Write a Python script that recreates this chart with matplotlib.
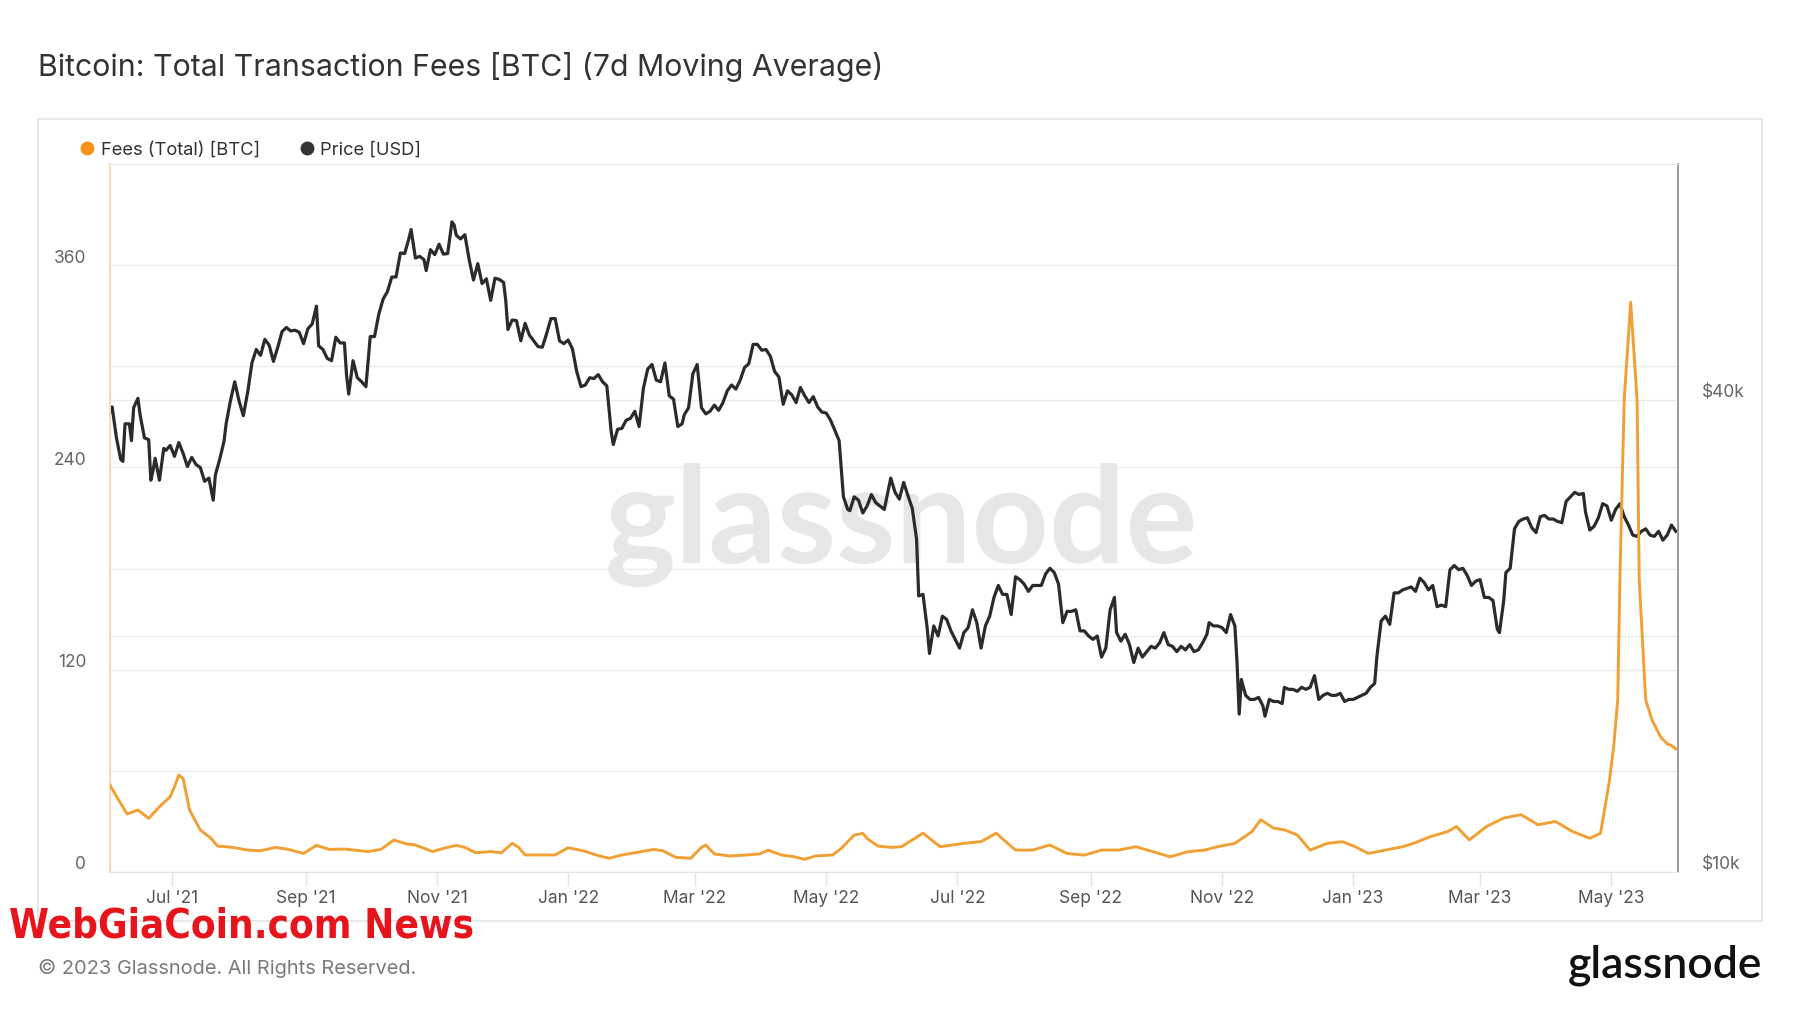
import matplotlib
matplotlib.use('Agg')
import matplotlib.pyplot as plt
import matplotlib.dates as mdates
import matplotlib.transforms as mtransforms
from matplotlib.lines import Line2D
from matplotlib.patches import Rectangle
from matplotlib.ticker import NullLocator
import pandas as pd

plt.rcParams['font.family'] = ['Inter', 'DejaVu Sans']

title = 'Bitcoin: Total Transaction Fees [BTC] (7d Moving Average)'
fee_label = 'Fees (Total) [BTC]'
price_label = 'Price [USD]'

# BTC price, thousands of USD
price_dates = [
    '2021-06-02', '2021-06-03', '2021-06-05', '2021-06-07', '2021-06-08', '2021-06-09', '2021-06-11', '2021-06-12',
    '2021-06-13', '2021-06-15', '2021-06-16', '2021-06-18', '2021-06-20', '2021-06-21', '2021-06-22', '2021-06-23',
    '2021-06-25', '2021-06-27', '2021-06-28', '2021-06-30', '2021-07-02', '2021-07-04', '2021-07-06', '2021-07-08',
    '2021-07-10', '2021-07-12', '2021-07-14', '2021-07-16', '2021-07-18', '2021-07-20', '2021-07-21', '2021-07-23',
    '2021-07-25', '2021-07-26', '2021-07-28', '2021-07-30', '2021-08-01', '2021-08-03', '2021-08-05', '2021-08-07',
    '2021-08-09', '2021-08-11', '2021-08-13', '2021-08-15', '2021-08-17', '2021-08-19', '2021-08-21', '2021-08-23',
    '2021-08-25', '2021-08-27', '2021-08-29', '2021-08-31', '2021-09-02', '2021-09-04', '2021-09-06', '2021-09-07',
    '2021-09-09', '2021-09-11', '2021-09-13', '2021-09-15', '2021-09-17', '2021-09-19', '2021-09-20', '2021-09-21',
    '2021-09-23', '2021-09-25', '2021-09-27', '2021-09-29', '2021-10-01', '2021-10-03', '2021-10-05', '2021-10-07',
    '2021-10-09', '2021-10-11', '2021-10-13', '2021-10-15', '2021-10-17', '2021-10-19', '2021-10-20', '2021-10-22',
    '2021-10-24', '2021-10-26', '2021-10-27', '2021-10-29', '2021-10-31', '2021-11-02', '2021-11-04', '2021-11-06',
    '2021-11-08', '2021-11-09', '2021-11-10', '2021-11-12', '2021-11-14', '2021-11-16', '2021-11-18', '2021-11-20',
    '2021-11-22', '2021-11-24', '2021-11-26', '2021-11-28', '2021-11-30', '2021-12-02', '2021-12-03', '2021-12-04',
    '2021-12-06', '2021-12-08', '2021-12-10', '2021-12-12', '2021-12-14', '2021-12-16', '2021-12-18', '2021-12-20',
    '2021-12-22', '2021-12-24', '2021-12-26', '2021-12-28', '2021-12-30',
    '2022-01-01', '2022-01-03', '2022-01-05', '2022-01-07', '2022-01-09', '2022-01-11', '2022-01-13', '2022-01-15',
    '2022-01-17', '2022-01-19', '2022-01-21', '2022-01-22', '2022-01-24', '2022-01-26', '2022-01-28', '2022-01-30',
    '2022-02-01', '2022-02-03', '2022-02-05', '2022-02-07', '2022-02-09', '2022-02-11', '2022-02-13', '2022-02-15',
    '2022-02-17', '2022-02-19', '2022-02-21', '2022-02-23', '2022-02-24', '2022-02-26', '2022-02-28', '2022-03-02',
    '2022-03-04', '2022-03-06', '2022-03-08', '2022-03-10', '2022-03-12', '2022-03-14', '2022-03-16', '2022-03-18',
    '2022-03-20', '2022-03-22', '2022-03-24', '2022-03-26', '2022-03-28', '2022-03-30', '2022-04-01', '2022-04-03',
    '2022-04-05', '2022-04-07', '2022-04-09', '2022-04-11', '2022-04-13', '2022-04-15', '2022-04-17', '2022-04-19',
    '2022-04-21', '2022-04-23', '2022-04-25', '2022-04-27', '2022-04-29', '2022-05-01', '2022-05-03', '2022-05-05',
    '2022-05-07', '2022-05-09', '2022-05-11', '2022-05-12', '2022-05-14', '2022-05-16', '2022-05-18', '2022-05-20',
    '2022-05-22', '2022-05-24', '2022-05-26', '2022-05-28', '2022-05-31', '2022-06-02', '2022-06-04', '2022-06-06',
    '2022-06-08', '2022-06-10', '2022-06-12', '2022-06-13', '2022-06-15', '2022-06-17', '2022-06-18', '2022-06-20',
    '2022-06-22', '2022-06-24', '2022-06-26', '2022-06-28', '2022-06-30', '2022-07-02', '2022-07-04', '2022-07-06',
    '2022-07-08', '2022-07-10', '2022-07-12', '2022-07-14', '2022-07-16', '2022-07-18', '2022-07-20', '2022-07-22',
    '2022-07-24', '2022-07-26', '2022-07-28', '2022-07-30', '2022-08-01', '2022-08-03', '2022-08-05', '2022-08-07',
    '2022-08-09', '2022-08-11', '2022-08-13', '2022-08-15', '2022-08-17', '2022-08-19', '2022-08-21', '2022-08-23',
    '2022-08-25', '2022-08-27', '2022-08-29', '2022-08-31', '2022-09-02', '2022-09-04', '2022-09-06', '2022-09-08',
    '2022-09-10', '2022-09-12', '2022-09-13', '2022-09-15', '2022-09-17', '2022-09-19', '2022-09-21', '2022-09-23',
    '2022-09-25', '2022-09-27', '2022-09-29', '2022-10-01', '2022-10-03', '2022-10-05', '2022-10-07', '2022-10-09',
    '2022-10-11', '2022-10-13', '2022-10-15', '2022-10-17', '2022-10-19', '2022-10-21', '2022-10-23', '2022-10-25',
    '2022-10-26', '2022-10-28', '2022-10-30', '2022-11-01', '2022-11-03', '2022-11-05', '2022-11-07', '2022-11-08',
    '2022-11-09', '2022-11-10', '2022-11-12', '2022-11-14', '2022-11-16', '2022-11-18', '2022-11-20', '2022-11-21',
    '2022-11-23', '2022-11-25', '2022-11-27', '2022-11-29', '2022-11-30', '2022-12-02', '2022-12-04', '2022-12-06',
    '2022-12-08', '2022-12-10', '2022-12-12', '2022-12-14', '2022-12-16', '2022-12-18', '2022-12-20', '2022-12-22',
    '2022-12-24', '2022-12-26', '2022-12-28', '2022-12-30',
    '2023-01-01', '2023-01-03', '2023-01-05', '2023-01-07', '2023-01-09', '2023-01-11', '2023-01-12', '2023-01-14',
    '2023-01-16', '2023-01-18', '2023-01-20', '2023-01-22', '2023-01-24', '2023-01-26', '2023-01-28', '2023-01-30',
    '2023-02-01', '2023-02-03', '2023-02-05', '2023-02-07', '2023-02-09', '2023-02-11', '2023-02-13', '2023-02-15',
    '2023-02-17', '2023-02-19', '2023-02-21', '2023-02-23', '2023-02-25', '2023-02-27', '2023-03-01', '2023-03-03',
    '2023-03-05', '2023-03-07', '2023-03-09', '2023-03-10', '2023-03-12', '2023-03-13', '2023-03-15', '2023-03-17',
    '2023-03-19', '2023-03-21', '2023-03-23', '2023-03-25', '2023-03-27', '2023-03-29', '2023-03-31', '2023-04-02',
    '2023-04-04', '2023-04-06', '2023-04-08', '2023-04-10', '2023-04-12', '2023-04-14', '2023-04-16', '2023-04-18',
    '2023-04-19', '2023-04-21', '2023-04-23', '2023-04-25', '2023-04-27', '2023-04-29', '2023-05-01', '2023-05-03',
    '2023-05-05', '2023-05-07', '2023-05-09', '2023-05-11', '2023-05-13', '2023-05-15', '2023-05-17', '2023-05-19',
    '2023-05-21', '2023-05-23', '2023-05-25', '2023-05-27', '2023-05-29', '2023-05-31',
]
price_k = [
    38.6, 39.2, 35.8, 33.6, 33.4, 37.3, 37.3, 35.5,
    39.1, 40.2, 38.3, 35.8, 35.6, 31.6, 32.5, 33.7,
    31.6, 34.7, 34.5, 35.0, 33.9, 35.3, 34.2, 32.9,
    33.8, 33.1, 32.8, 31.5, 31.8, 29.8, 32.1, 33.6,
    35.4, 37.3, 39.9, 42.2, 39.9, 38.2, 40.9, 44.6,
    46.4, 45.6, 47.8, 47.0, 44.8, 46.7, 48.9, 49.5,
    49.0, 49.1, 48.8, 47.2, 49.3, 50.0, 52.7, 46.9,
    46.4, 45.2, 44.9, 48.1, 47.3, 47.3, 43.0, 40.7,
    44.9, 42.7, 42.2, 41.6, 48.2, 48.2, 51.5, 53.8,
    55.0, 57.4, 57.4, 61.6, 61.5, 64.3, 66.0, 60.7,
    61.0, 60.4, 58.5, 62.2, 61.3, 63.2, 61.4, 61.5,
    67.5, 66.9, 64.9, 64.2, 65.0, 60.4, 56.9, 59.7,
    56.3, 57.1, 53.6, 57.2, 57.0, 56.5, 53.6, 49.2,
    50.6, 50.5, 47.6, 50.1, 48.4, 47.6, 46.8, 46.7,
    48.6, 50.8, 50.8, 47.6, 47.2,
    47.7, 46.5, 43.5, 41.6, 41.8, 42.7, 42.6, 43.1,
    42.2, 41.7, 36.5, 35.1, 36.7, 36.8, 37.7, 37.9,
    38.7, 37.0, 41.4, 43.8, 44.4, 42.4, 42.2, 44.6,
    40.5, 40.1, 37.0, 37.3, 38.3, 39.1, 43.2, 44.4,
    39.1, 38.4, 38.7, 39.4, 38.8, 39.7, 41.1, 41.8,
    41.3, 42.4, 44.0, 44.5, 47.1, 47.1, 46.3, 46.4,
    45.5, 43.5, 42.8, 39.5, 41.1, 40.6, 39.7, 41.5,
    40.5, 39.7, 40.4, 39.2, 38.6, 38.5, 37.7, 36.6,
    35.5, 30.1, 29.0, 28.9, 30.1, 29.8, 28.7, 29.3,
    30.3, 29.6, 29.3, 29.0, 31.8, 30.5, 29.9, 31.4,
    30.2, 29.1, 26.6, 22.5, 22.6, 20.4, 19.0, 20.6,
    20.0, 21.2, 21.0, 20.3, 19.8, 19.3, 20.2, 20.5,
    21.6, 20.8, 19.3, 20.6, 21.2, 22.4, 23.2, 22.6,
    22.6, 21.3, 23.8, 23.6, 23.3, 22.8, 23.2, 23.2,
    23.2, 24.0, 24.4, 24.1, 23.3, 20.8, 21.5, 21.5,
    21.6, 20.3, 20.3, 20.0, 19.8, 20.0, 18.8, 19.3,
    21.6, 22.4, 20.2, 19.7, 20.1, 19.5, 18.5, 19.3,
    18.8, 19.1, 19.4, 19.3, 19.6, 20.2, 19.5, 19.4,
    19.1, 19.4, 19.2, 19.5, 19.1, 19.2, 19.6, 20.1,
    20.8, 20.6, 20.6, 20.5, 20.2, 21.3, 20.6, 18.5,
    15.9, 17.6, 16.8, 16.6, 16.6, 16.7, 16.3, 15.8,
    16.6, 16.5, 16.5, 16.4, 17.2, 17.1, 17.1, 17.0,
    17.2, 17.1, 17.2, 17.8, 16.6, 16.8, 16.9, 16.8,
    16.8, 16.9, 16.5, 16.6,
    16.6, 16.7, 16.8, 16.9, 17.2, 17.4, 18.8, 20.9,
    21.2, 20.7, 22.7, 22.7, 22.9, 23.0, 23.1, 22.8,
    23.7, 23.4, 22.9, 23.2, 21.8, 21.9, 21.8, 24.3,
    24.6, 24.3, 24.4, 23.9, 23.2, 23.5, 23.6, 22.4,
    22.4, 22.2, 20.4, 20.2, 22.2, 24.1, 24.4, 27.4,
    28.0, 28.2, 28.3, 27.5, 27.1, 28.4, 28.5, 28.2,
    28.2, 28.0, 27.9, 29.7, 30.1, 30.5, 30.3, 30.4,
    28.8, 27.3, 27.6, 28.3, 29.5, 29.3, 28.1, 29.0,
    29.5, 28.4, 27.7, 26.9, 26.8, 27.2, 27.4, 26.9,
    26.8, 27.2, 26.5, 26.9, 27.7, 27.2,
]

# total fees, 7d moving average, BTC (left axis)
fee_dates = [
    '2021-06-02', '2021-06-06', '2021-06-10', '2021-06-15', '2021-06-16', '2021-06-20', '2021-06-25', '2021-06-30',
    '2021-07-02', '2021-07-04', '2021-07-06', '2021-07-09', '2021-07-14', '2021-07-19', '2021-07-22', '2021-07-29',
    '2021-08-05', '2021-08-11', '2021-08-18', '2021-08-24', '2021-08-31', '2021-09-06', '2021-09-12', '2021-09-19',
    '2021-09-30', '2021-10-06', '2021-10-12', '2021-10-18', '2021-10-22', '2021-10-30', '2021-11-04', '2021-11-10',
    '2021-11-14', '2021-11-19', '2021-11-26', '2021-12-01', '2021-12-06', '2021-12-09', '2021-12-12', '2021-12-19',
    '2021-12-26', '2022-01-01', '2022-01-08', '2022-01-14', '2022-01-20', '2022-01-26', '2022-02-04', '2022-02-10',
    '2022-02-14', '2022-02-20', '2022-02-27', '2022-03-04', '2022-03-06', '2022-03-10', '2022-03-17', '2022-03-25',
    '2022-03-31', '2022-04-04', '2022-04-10', '2022-04-16', '2022-04-21', '2022-04-26', '2022-05-04', '2022-05-08',
    '2022-05-14', '2022-05-18', '2022-05-20', '2022-05-25', '2022-05-31', '2022-06-05',
    '2022-06-15', '2022-06-23', '2022-07-04', '2022-07-12', '2022-07-19', '2022-07-28', '2022-08-05', '2022-08-13',
    '2022-08-21', '2022-08-29', '2022-09-06', '2022-09-14', '2022-09-22', '2022-09-30', '2022-10-08', '2022-10-16',
    '2022-10-24', '2022-10-30', '2022-11-07', '2022-11-15', '2022-11-19', '2022-11-25', '2022-11-30', '2022-12-06',
    '2022-12-12', '2022-12-20', '2022-12-27', '2023-01-02', '2023-01-08', '2023-01-16', '2023-01-24', '2023-01-29',
    '2023-02-06', '2023-02-14', '2023-02-18', '2023-02-24', '2023-03-04', '2023-03-12', '2023-03-20', '2023-03-28',
    '2023-04-05', '2023-04-13', '2023-04-21', '2023-04-26', '2023-04-30', '2023-05-02', '2023-05-04', '2023-05-05',
    '2023-05-07', '2023-05-10', '2023-05-13', '2023-05-14', '2023-05-17', '2023-05-20', '2023-05-24', '2023-05-27',
    '2023-05-29', '2023-05-31',
]
fee_btc = [
    51.6, 42.7, 34.4, 36.8, 35.8, 31.8, 38.7, 44.7,
    50.6, 57.5, 55.5, 36.8, 24.9, 20.0, 15.4, 14.6,
    13.0, 12.6, 14.6, 13.4, 11.0, 15.8, 13.4, 13.6,
    12.1, 13.4, 19.0, 16.6, 16.0, 12.1, 14.0, 15.8,
    14.6, 11.4, 12.1, 11.4, 17.0, 14.6, 10.1, 10.1,
    10.1, 14.4, 12.6, 10.1, 8.1, 10.1, 12.1, 13.4,
    12.6, 8.7, 8.1, 14.6, 16.0, 10.7, 9.5, 10.1,
    10.7, 13.0, 10.1, 9.1, 7.5, 9.5, 10.1, 14.0,
    21.9, 22.9, 19.9, 15.4, 14.6, 15.0,
    23, 15, 17, 18, 23, 13, 13, 16,
    11, 10, 13, 13, 15, 12, 9, 12,
    13, 15, 17, 24, 31, 26, 25, 22,
    13, 17, 18, 15, 11, 13, 15, 17,
    21, 24, 27, 19, 27, 32, 34, 28,
    30, 24, 20, 23, 53, 73, 102, 173,
    280, 338, 280, 173, 102, 90, 80, 76,
    75, 73,
]

fee_ticks = [0, 120, 240, 360]
fee_grid = [60, 120, 180, 240, 300, 360]
price_ticks = [10, 20, 40]
price_tick_labels = ['$10k', '', '$40k']

orange = '#f0a034'
dark = '#2b2b2b'

fig = plt.figure(figsize=(18, 10.13), dpi=100)
fig.patch.set_facecolor('white')

# outer card
fig.add_artist(Rectangle((0.0211, 0.0908), 0.9578, 0.7917, transform=fig.transFigure,
                         fill=False, edgecolor='#e4e4e4', lw=1.2))

ax_p = fig.add_axes([0.0611, 0.1392, 0.8711, 0.6989])
ax_f = ax_p.twinx()

pdates = pd.to_datetime(price_dates)
fdates = pd.to_datetime(fee_dates)

ax_p.plot(pdates, price_k, color=dark, lw=2.3, solid_joinstyle='round', zorder=3)
ax_f.plot(fdates, fee_btc, color=orange, lw=2.1, solid_joinstyle='round', zorder=3)

ax_p.set_yscale('log')
ax_p.set_ylim(10, 80)
ax_p.set_yticks(price_ticks)
ax_p.set_yticklabels(price_tick_labels)
ax_p.yaxis.set_minor_locator(NullLocator())
ax_p.yaxis.tick_right()
ax_f.yaxis.tick_left()

ax_f.set_ylim(0, 420)
ax_f.set_yticks(fee_ticks)

ax_p.set_xlim(pd.Timestamp('2021-06-02'), pd.Timestamp('2023-06-01'))
ax_p.xaxis.set_major_locator(mdates.MonthLocator(bymonth=[1, 3, 5, 7, 9, 11]))
ax_p.xaxis.set_major_formatter(mdates.DateFormatter("%b '%y"))

# grid lines, all drawn under the data lines
ax_p.grid(axis='y', color='#ebebeb', lw=1, zorder=0)
blend = mtransforms.blended_transform_factory(ax_p.transAxes, ax_f.transData)
for v in fee_grid:
    ax_p.add_line(Line2D([0, 1], [v, v], transform=blend, color='#ebebeb', lw=1, zorder=0))

for s in ax_p.spines.values():
    s.set_visible(False)
ax_f.spines['left'].set_color('#f3dcb4')
ax_f.spines['left'].set_linewidth(1.4)
ax_f.spines['right'].set_color('#9c9c9c')
ax_f.spines['right'].set_linewidth(1.4)
ax_f.spines['top'].set_color('#e6e6e6')
ax_f.spines['bottom'].set_color('#e2e2e2')

ax_p.tick_params(axis='y', length=0, pad=17, labelsize=12.5, labelcolor='#666666')
ax_f.tick_params(axis='y', length=0, pad=17, labelsize=12.5, labelcolor='#666666')
ax_p.tick_params(axis='x', length=10, width=1, color='#e3e3e3', pad=3, labelsize=12.5, labelcolor='#555555')

# labels sit a little above their grid line
shift = mtransforms.ScaledTranslation(0, 9 / 100, fig.dpi_scale_trans)
for lab in ax_p.get_yticklabels() + ax_f.get_yticklabels():
    lab.set_transform(lab.get_transform() + shift)

# watermark
ax_p.text(0.5006, 0.4813, 'glassnode', transform=fig.transFigure, ha='center', va='center',
          fontsize=97, color='#e7e7e7', family='Lato', weight='bold', zorder=0)

fig.text(0.0211, 0.934, title, fontsize=21.8, color='#333333', va='center')

handles = [Line2D([], [], marker='o', ls='', color='#f7931a', markersize=9),
           Line2D([], [], marker='o', ls='', color='#333333', markersize=9)]
fig.legend(handles, [fee_label, price_label], loc='center left', bbox_to_anchor=(0.0442, 0.852),
           ncol=2, frameon=False, fontsize=13.2, handlelength=0.8, handletextpad=0.35,
           columnspacing=2.15, borderaxespad=0, borderpad=0, labelcolor='#333333')

fig.text(0.005, 0.085, 'WebGiaCoin.com News', color='#e8141b', fontsize=29, weight='heavy',
         family=['Liberation Sans Narrow', 'DejaVu Sans'], stretch='condensed', va='center')
fig.text(0.0211, 0.0444, '\u00a9 2023 Glassnode. All Rights Reserved.', color='#7a7a7a',
         fontsize=14.4, va='center')
fig.text(0.979, 0.0346, 'glassnode', ha='right', va='baseline', fontsize=32, color='#111111',
         family='Lato', weight='semibold')

fig.savefig('out.png', dpi=100)
